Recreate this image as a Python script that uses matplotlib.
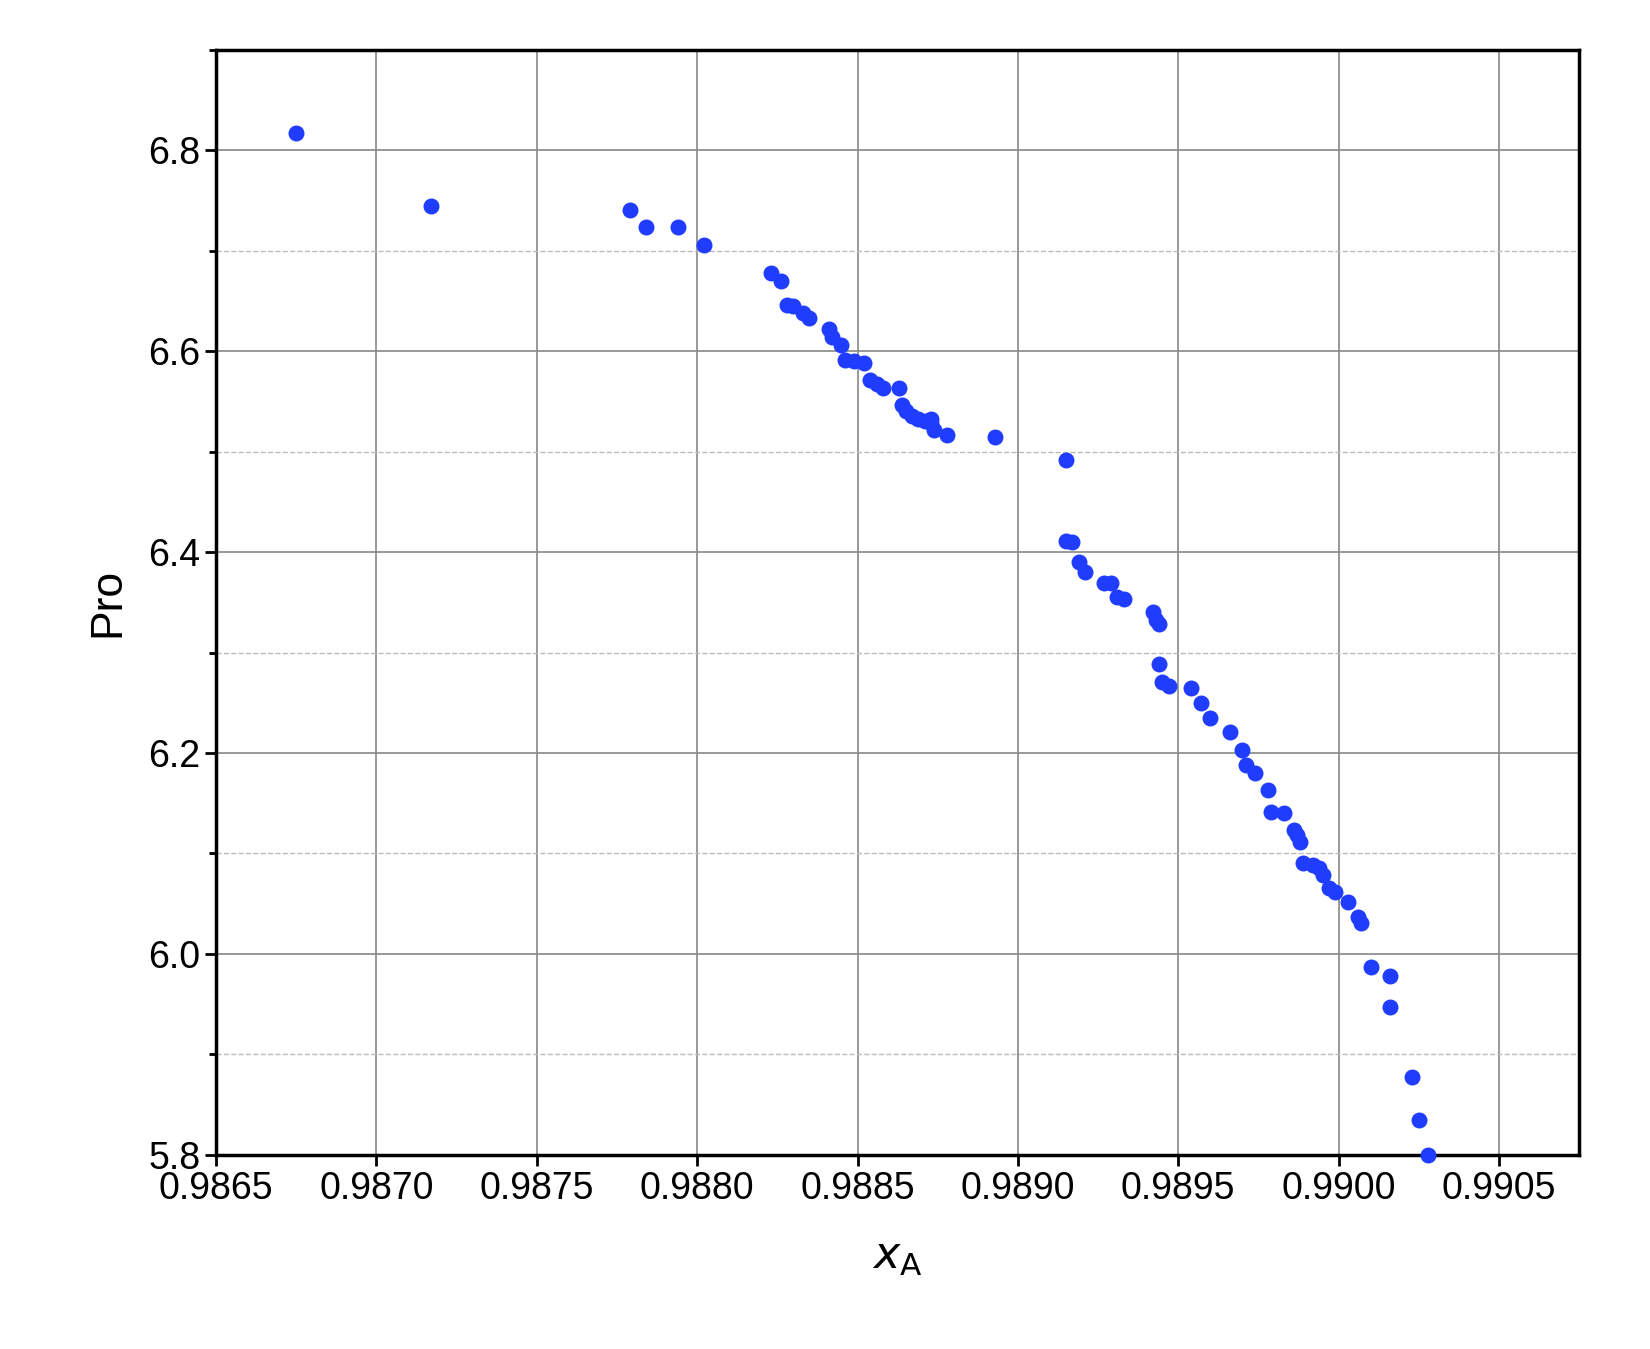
import matplotlib
matplotlib.use("Agg")
import matplotlib.pyplot as plt
from matplotlib.ticker import MultipleLocator, FormatStrFormatter

xA = [0.98675,0.98717,0.98779,0.98784,0.98794,0.98802,0.98823,0.98826,0.98828,0.98830,
      0.98833,0.98835,0.98841,0.98842,0.98845,0.98846,0.98849,0.98852,0.98854,0.98856,
      0.98858,0.98863,0.98864,0.98865,0.98867,0.98869,0.98871,0.98873,0.98873,0.98874,
      0.98878,0.98893,0.98915,0.98915,0.98917,0.98919,0.98921,0.98927,0.98929,0.98931,
      0.98933,0.98942,0.98943,0.98944,0.98944,0.98945,0.98947,0.98954,0.98957,0.98960,
      0.98966,0.98970,0.98971,0.98974,0.98978,0.98979,0.98983,0.98986,0.98987,0.98988,
      0.98989,0.98992,0.98994,0.98995,0.98997,0.98999,0.99003,0.99006,0.99007,0.99010,
      0.99016,0.99016,0.99023,0.99025,0.99028]
pro = [6.817,6.745,6.741,6.724,6.724,6.706,6.678,6.670,6.646,6.645,
       6.638,6.633,6.622,6.614,6.606,6.591,6.590,6.588,6.571,6.567,
       6.563,6.563,6.546,6.540,6.536,6.533,6.531,6.533,6.529,6.522,
       6.517,6.515,6.492,6.411,6.410,6.390,6.380,6.369,6.369,6.355,
       6.353,6.340,6.332,6.328,6.289,6.271,6.267,6.265,6.250,6.235,
       6.221,6.203,6.188,6.180,6.163,6.141,6.140,6.123,6.118,6.111,
       6.090,6.088,6.085,6.079,6.066,6.062,6.052,6.037,6.031,5.987,
       5.978,5.947,5.877,5.835,5.800]

plt.rcParams['font.family'] = ['Liberation Sans', 'DejaVu Sans']
fig = plt.figure(figsize=(16.5, 13.49), dpi=100)
ax = fig.add_axes([0.131, 0.144, 0.826, 0.819])
ax.scatter(xA, pro, s=110, color='#1f3cff', zorder=3, clip_on=False)
ax.set_xlim(0.9865, 0.99075)
ax.set_ylim(5.8, 6.9)
ax.xaxis.set_major_locator(MultipleLocator(0.0005))
ax.xaxis.set_major_formatter(FormatStrFormatter('%.4f'))
ax.yaxis.set_major_locator(MultipleLocator(0.2))
ax.yaxis.set_minor_locator(MultipleLocator(0.1))
ax.yaxis.set_major_formatter(FormatStrFormatter('%.1f'))
ax.grid(True, which='major', color='#888888', linewidth=1.2)
ax.grid(True, which='minor', axis='y', color='#bbbbbb', linestyle='--', linewidth=1)
for s in ax.spines.values():
    s.set_linewidth(2.5)
ax.tick_params(which='major', labelsize=27, width=2, length=8)
ax.tick_params(which='minor', width=2, length=5)
ax.set_xlabel(r'$x$$_{\mathrm{A}}$', fontsize=32, labelpad=22)
ax.set_ylabel('Pro', fontsize=32, labelpad=14)
fig.savefig('out.png', dpi=100)
